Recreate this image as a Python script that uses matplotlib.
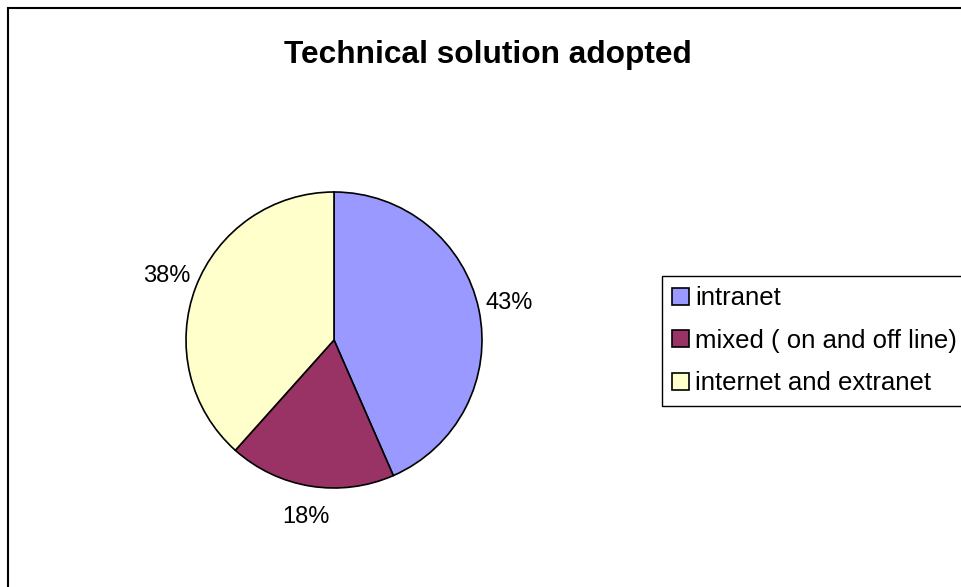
import matplotlib.pyplot as plt
from matplotlib.patches import Rectangle

plt.rcParams['font.family'] = ['Liberation Sans', 'DejaVu Sans']

# === Data ===
labels = ['intranet', 'mixed ( on and off line)', 'internet and extranet']
shares = [43, 18, 38]
colors = ['#9999FF', '#993366', '#FFFFCC']

W, H = 961, 587
fig = plt.figure(figsize=(W / 100, H / 100), dpi=100)

# outer chart border (cut off at right and bottom like the original)
fig.patches.append(Rectangle((8 / W, -0.1), 1.2, 1 - 8 / H + 0.1, transform=fig.transFigure,
                             fill=False, edgecolor='black', linewidth=1.5))

# pie area: centre (334, 340), radius 148 px
cx, cy, r = 334, 340, 148
ax = fig.add_axes([(cx - r) / W, (H - cy - r) / H, 2 * r / W, 2 * r / H])
wedges, _, pct = ax.pie(shares, colors=colors, startangle=90, counterclock=False,
                        autopct='%.0f%%', pctdistance=1.21,
                        wedgeprops=dict(edgecolor='black', linewidth=1.2),
                        textprops=dict(fontsize=17, color='black'))
ax.set_xlim(-1, 1)
ax.set_ylim(-1, 1)
ax.set_aspect('equal')
ax.axis('off')

fig.text(488 / W, 1 - 63 / H, 'Technical solution adopted', ha='center', va='baseline',
         fontsize=22.8, fontweight='bold')

leg = fig.legend(wedges, labels, loc='upper left', bbox_to_anchor=(662 / W, 1 - 276 / H),
                 bbox_transform=fig.transFigure, borderaxespad=0, fontsize=18.5,
                 handlelength=0.65, handleheight=0.65, handletextpad=0.25,
                 labelspacing=0.72, borderpad=0.4, fancybox=False, framealpha=1)
leg.get_frame().set_edgecolor('black')
leg.get_frame().set_linewidth(1.0)

fig.savefig('out.png', dpi=100)
